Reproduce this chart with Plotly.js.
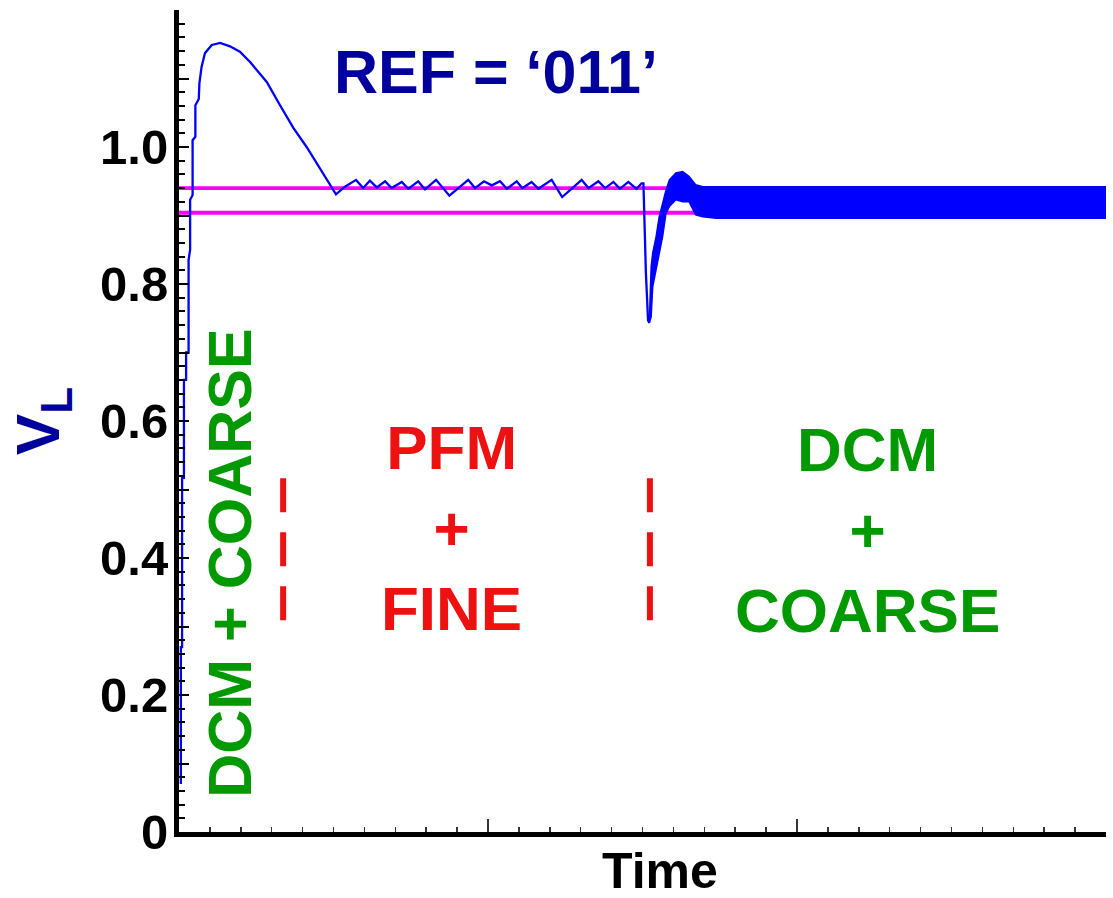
<!DOCTYPE html>
<html>
<head>
<meta charset="utf-8">
<script src="https://cdn.plot.ly/plotly-3.0.1.min.js"></script>
<style>html,body{margin:0;padding:0;background:#fff;}#chart{width:1113px;height:898px;}</style>
</head>
<body>
<div id="chart"></div>
<script>
// ---- data (time in arbitrary units, 100 per major tick) ----
// start-up (DCM + COARSE)
const startTime = [0.6,0.6,1.0,1.0,1.6,1.6,2.3,2.3,3.1,3.1,3.6,3.6,4.4,4.4,5.3,5.3,6.4,6.6,7.3,8.4,10.6,13.3,16.5,19.7,23.0,28.4,32.7,37.0,41.3,45.6,50.5];
const startV    = [0.07,0.27,0.27,0.517,0.517,0.66,0.66,0.70,0.70,0.835,0.85,0.923,0.93,1.01,1.015,1.061,1.07,1.093,1.117,1.137,1.149,1.152,1.147,1.139,1.124,1.095,1.061,1.028,1.0,0.969,0.933];
// PFM + FINE ripple
const pfmTime = [50.8,53.7,57.3,59.6,61.8,64.0,66.7,68.8,72.1,74.2,77.4,79.6,83.2,87.5,90.3,93.6,95.8,98.7,101.2,103.9,106.1,109.3,111.1,114.1,116.3,120.6,124.0,130.3,132.5,135.7,137.9,140.6,142.7,145.4,148.1,149.7,150.3];
const pfmV    = [0.931,0.942,0.952,0.940,0.951,0.941,0.950,0.940,0.949,0.939,0.950,0.938,0.952,0.929,0.940,0.952,0.940,0.950,0.944,0.950,0.939,0.950,0.940,0.949,0.939,0.952,0.927,0.952,0.940,0.950,0.940,0.949,0.939,0.949,0.939,0.947,0.947];
// load step dip
const dipTime = [150.6,151.1,151.8,152.2];
const dipV    = [0.886,0.816,0.747,0.743];
// DCM + COARSE ripple envelope (dense switching band)
const bandTime  = [152.2,152.8,153.3,154.4,155.4,156.5,157.6,158.7,160.8,163.0,165.1,167.2,169.5,173.8,300];
const bandLower = [0.743,0.752,0.796,0.820,0.845,0.869,0.903,0.913,0.923,0.920,0.920,0.901,0.898,0.896,0.896];
const bandUpper = [0.743,0.825,0.845,0.869,0.898,0.918,0.937,0.952,0.962,0.964,0.957,0.945,0.942,0.942,0.942];
// window thresholds
const windowTime = [0, 300];
const windowHigh = [0.940, 0.940];
const windowLow  = [0.904, 0.904];
// mode boundaries (red dashed markers)
const modeBoundaries = [33.7, 152.4];
const boundarySpan = [0.309, 0.521];
// y tick labels
const yTickVals = [0,0.1,0.2,0.3,0.4,0.5,0.6,0.7,0.8,0.9,1.0,1.1,1.2];
const yTickText = ['0',' ','0.2',' ','0.4',' ','0.6',' ','0.8',' ','1.0',' ',' '];

const vlTime = startTime.concat(pfmTime, dipTime);
const vlV = startV.concat(pfmV, dipV);

const FONT = 'Liberation Sans, Arial, Helvetica, sans-serif';
const BLUE = '#0000ff';
const MAGENTA = '#ff00ff';
const GREEN = '#009a00';
const RED = '#ee1111';
const NAVY = '#00009c';

const traces = [
  {x: windowTime, y: windowHigh, mode: 'lines', line: {color: MAGENTA, width: 3.8}, hoverinfo: 'skip'},
  {x: windowTime, y: windowLow,  mode: 'lines', line: {color: MAGENTA, width: 3.8}, hoverinfo: 'skip'},
  {x: vlTime, y: vlV, mode: 'lines', line: {color: BLUE, width: 2.3}},
  {x: bandTime, y: bandLower, mode: 'lines', line: {color: BLUE, width: 1.5}},
  {x: bandTime, y: bandUpper, mode: 'lines', line: {color: BLUE, width: 1.5}, fill: 'tonexty', fillcolor: BLUE}
];

const shapes = modeBoundaries.map(t => ({
  type: 'line', xref: 'x', yref: 'y', x0: t, x1: t, y0: boundarySpan[0], y1: boundarySpan[1],
  line: {color: RED, width: 6, dash: '34px,20px'}
}));

const ann = (text, x, y, color, size, extra) => Object.assign({
  text: text, x: x, y: y, xref: 'x', yref: 'y', showarrow: false,
  font: {family: FONT, size: size, color: color, weight: 'bold'}
}, extra || {});

const layout = {
  width: 1113, height: 898,
  margin: {l: 179, r: 7, t: 10, b: 66, pad: 0},
  paper_bgcolor: '#ffffff', plot_bgcolor: '#ffffff',
  showlegend: false,
  font: {family: FONT, color: '#000'},
  xaxis: {
    range: [0, 300], showgrid: false, zeroline: false,
    showline: true, linecolor: '#000', linewidth: 5,
    ticks: 'inside', ticklen: 13, tickwidth: 1.5, tickcolor: '#333',
    tickmode: 'linear', tick0: 0, dtick: 100, showticklabels: false,
    minor: {ticks: 'inside', ticklen: 5, tickwidth: 1.5, tickcolor: '#333', tickmode: 'linear', tick0: 0, dtick: 10},
    title: {text: ''}
  },
  yaxis: {
    range: [0, 1.2], showgrid: false, zeroline: false,
    showline: true, linecolor: '#000', linewidth: 5,
    ticks: 'inside', ticklen: 10, tickwidth: 2, tickcolor: '#000',
    tickmode: 'array', tickvals: yTickVals, ticktext: yTickText,
    ticklabelstandoff: -4,
    tickfont: {family: FONT, size: 49, color: '#000', weight: 'bold'},
    minor: {ticks: 'inside', ticklen: 6, tickwidth: 2, tickcolor: '#000', tickmode: 'linear', tick0: 0, dtick: 0.02},
    title: {text: 'V<sub><span style="font-size:44px">L</span></sub>', standoff: 22, font: {family: FONT, size: 62, color: NAVY, weight: 'bold'}}
  },
  shapes: shapes,
  annotations: [
    ann('REF = ‘011’', 102.6, 1.109, NAVY, 61),
    ann('DCM + COARSE', 16.5, 0.393, GREEN, 61, {textangle: -90}),
    ann('PFM<br>+<br>FINE', 88.3, 0.444, RED, 62),
    ann('DCM<br>+<br>COARSE', 222.7, 0.441, GREEN, 62),
    {text: 'Time', xref: 'x', yref: 'paper', x: 155.7, y: -0.047, yanchor: 'middle', showarrow: false,
     font: {family: FONT, size: 50, color: '#000', weight: 'bold'}}
  ]
};

Plotly.newPlot('chart', traces, layout, {displayModeBar: false, staticPlot: true});
</script>
</body>
</html>
